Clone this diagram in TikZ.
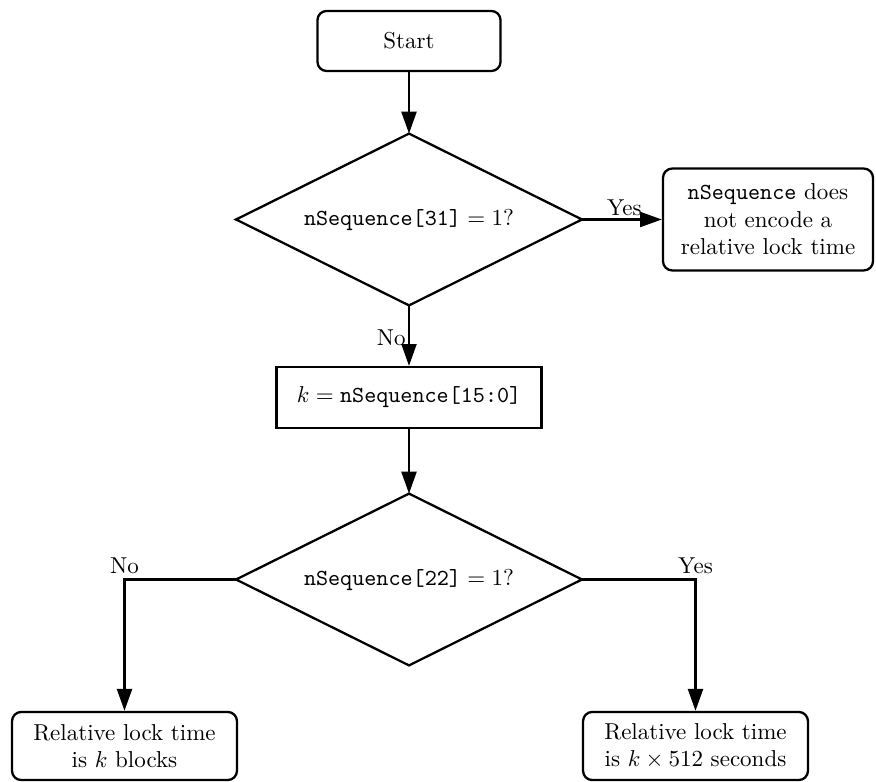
\documentclass[tikz,border=0pt]{standalone}
\usetikzlibrary{shapes.geometric,arrows.meta}
\begin{document}
\begin{tikzpicture}[x=0.4348pt,y=-0.4348pt,
  rbox/.style={draw,rounded corners=4pt,align=center,inner sep=0pt,line width=1pt},
  pbox/.style={draw,align=center,inner sep=0pt,line width=1pt},
  dec/.style={rectangle,inner sep=0pt,minimum width=150pt,minimum height=74.3pt},
  decline/.style={line width=1pt,line join=miter},
  conn/.style={-{Triangle[length=9.5pt,width=6.5pt]},line width=1pt}]
\useasboundingbox (0,0) rectangle (876,782);
\node[rbox,minimum width=79.6pt,minimum height=26.1pt] (start) at (409,41) {Start};
\node[dec] (d1) at (409,219.5) {$\texttt{nSequence[31]} = 1$?};
\draw[decline] (d1.north) -- (d1.east) -- (d1.south) -- (d1.west) -- cycle;
\node[rbox,minimum width=91.3pt,minimum height=44.3pt] (nrel) at (768,219.5) {\texttt{nSequence} does\\not encode a\\relative lock time};
\node[pbox,minimum width=115.2pt,minimum height=26.5pt] (kval) at (409,397.5) {$k = \texttt{nSequence[15:0]}$};
\node[dec] (d2) at (409,579.5) {$\texttt{nSequence[22]} = 1$?};
\draw[decline] (d2.north) -- (d2.east) -- (d2.south) -- (d2.west) -- cycle;
\node[rbox,minimum width=97.8pt,minimum height=29.6pt] (blk) at (124.5,746) {Relative lock time\\is $k$ blocks};
\node[rbox,minimum width=97.8pt,minimum height=29.6pt] (sec) at (695.5,746) {Relative lock time\\is $k\times 512$ seconds};
\draw[conn] (start.south) -- (d1.north);
\draw[conn] (d1.east) -- node[above,pos=0.53,inner sep=1pt] {Yes} (nrel.west);
\draw[conn] (d1.south) -- node[left,pos=0.53,inner sep=1pt] {No} (kval.north);
\draw[conn] (kval.south) -- (d2.north);
\draw[conn] (d2.west) -| node[above,pos=0.5,inner sep=2pt] {No} (blk.north);
\draw[conn] (d2.east) -| node[above,pos=0.5,inner sep=2pt] {Yes} (sec.north);
\end{tikzpicture}
\end{document}
